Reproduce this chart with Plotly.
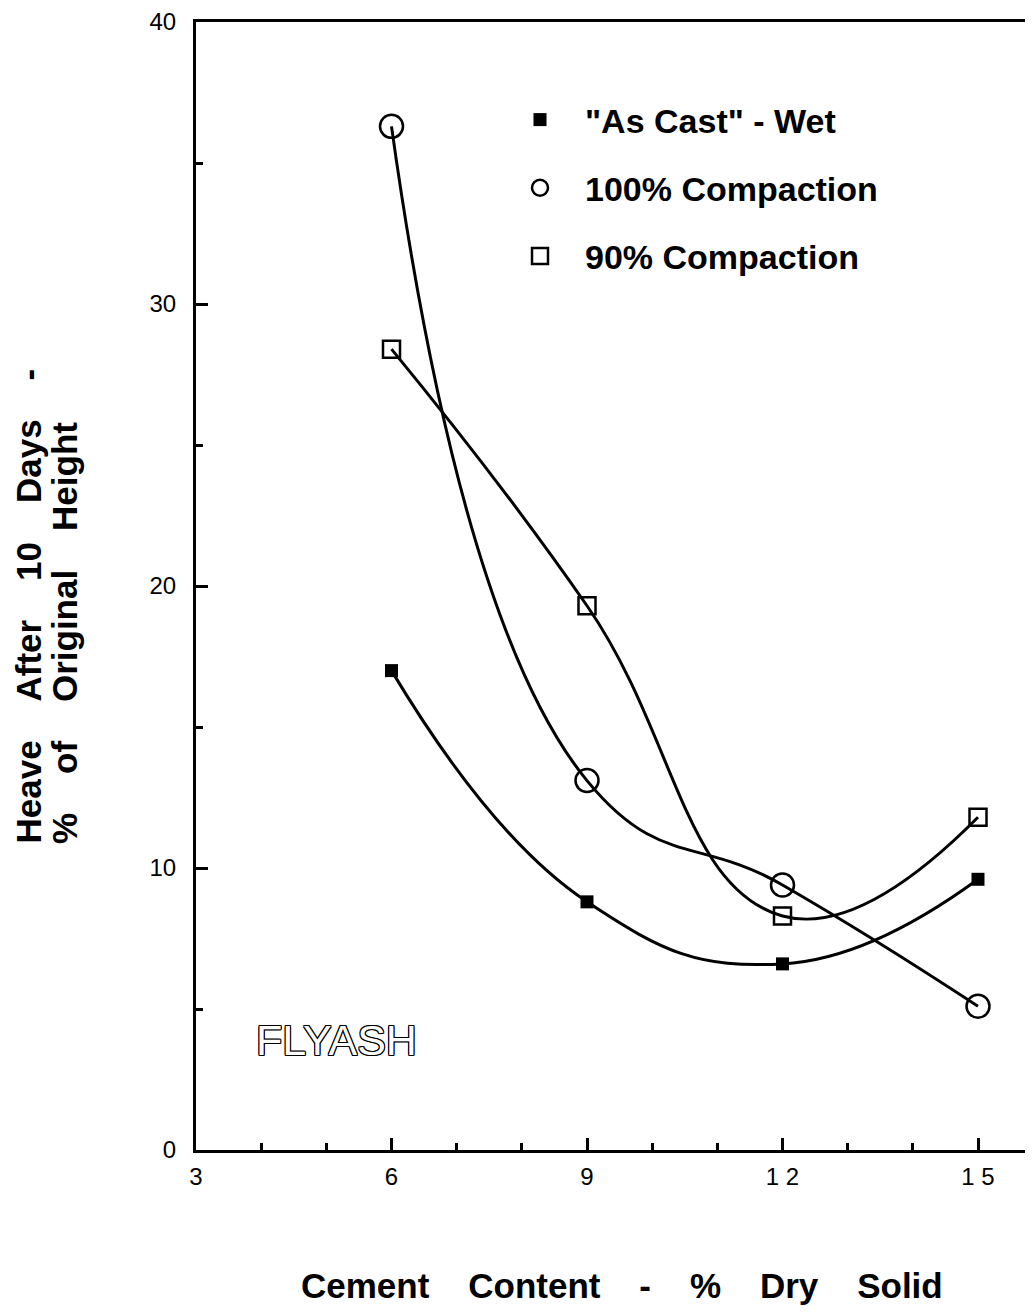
import plotly.graph_objects as go

# Data
cement = [6, 9, 12, 15]
as_cast_wet = [17.0, 8.8, 6.6, 9.6]
compaction_100 = [36.3, 13.1, 9.4, 5.1]
compaction_90 = [28.4, 19.3, 8.3, 11.8]

series_names = ['"As Cast" - Wet', "100% Compaction", "90% Compaction"]
x_tick_vals = [3, 6, 9, 12, 15]
x_tick_text = ["3", "6", "9", "1 2", "1 5"]
y_tick_vals = [0, 10, 20, 30, 40]

FONT = "Liberation Sans, Arial, Helvetica, sans-serif"
NB = "\u00a0"

# page has 8px body margin; work in screen pixels and convert
OFF = 8
W, H = 1017, 1300
L, T = 196 - OFF, 22 - OFF
B = H - (1150 - OFF)
R = 0
pw, ph = W - L - R, H - T - B


def px(xs):
    return (xs - OFF - L) / pw


def py(ys):
    return 1 - (ys - OFF - T) / ph


fig = go.Figure()

series = [
    (as_cast_wet, series_names[0], dict(symbol="square", size=13, color="black")),
    (compaction_100, series_names[1], dict(symbol="circle-open", size=23, color="black", line=dict(width=2.5, color="black"))),
    (compaction_90, series_names[2], dict(symbol="square-open", size=17, color="black", line=dict(width=2.5, color="black"))),
]

for i, (vals, name, mk) in enumerate(series):
    fig.add_trace(go.Scatter(
        x=cement, y=vals, mode="lines",
        line=dict(color="black", width=3, shape="spline", smoothing=1.3),
        showlegend=False, hoverinfo="skip",
    ))
for i, (vals, name, mk) in enumerate(series):
    fig.add_trace(go.Scatter(
        x=cement, y=vals, mode="markers", name=name, marker=mk,
        legendgroup=f"g{i}", showlegend=True,
    ))

fig.add_annotation(
    x=5.16, y=3.9, xref="x", yref="y", text="FLYASH", showarrow=False,
    font=dict(family=FONT, size=43, color="white",
              shadow="1px 0 0 #000, -1px 0 0 #000, 0 1px 0 #000, 0 -1px 0 #000, 1px 1px 0 #000, -1px -1px 0 #000, 1px -1px 0 #000, -1px 1px 0 #000"),
)

# Y axis title (two lines, rotated)
SPY = NB * 4
fig.add_annotation(
    x=px(28), y=py(846), xref="paper", yref="paper", xanchor="center", yanchor="bottom",
    text=f"<b>Heave{SPY}After{SPY}10{SPY}Days{SPY}-</b>",
    textangle=-90, showarrow=False,
    font=dict(family=FONT, size=35, color="black"),
)
fig.add_annotation(
    x=px(64), y=py(846), xref="paper", yref="paper", xanchor="center", yanchor="bottom",
    text=f"<b>%{SPY}of{SPY}Original{SPY}Height</b>",
    textangle=-90, showarrow=False,
    font=dict(family=FONT, size=35, color="black"),
)

# X axis title
SPX = NB * 4
fig.add_annotation(
    x=px(622), y=py(1285), xref="paper", yref="paper", xanchor="center", yanchor="middle",
    text=f"<b>Cement{SPX}Content{SPX}-{SPX}%{SPX}Dry{SPX}Solid</b>",
    showarrow=False,
    font=dict(family=FONT, size=35, color="black"),
)

px_per_x = (979 - 197) / 12.0
x_max = 3 + pw / px_per_x

fig.update_layout(
    width=W, height=H,
    margin=dict(l=L, r=R, t=T, b=B, autoexpand=False),
    paper_bgcolor="white", plot_bgcolor="white",
    font=dict(family=FONT, color="black"),
    showlegend=True,
    legend=dict(
        x=px(495), y=py(91), xanchor="left", yanchor="top",
        font=dict(family=FONT, size=34, color="black", weight="bold"),
        bgcolor="rgba(0,0,0,0)", tracegroupgap=21, itemwidth=80,
    ),
    xaxis=dict(
        range=[3, x_max], showgrid=False, zeroline=False,
        showline=True, linewidth=3, linecolor="black", mirror=True,
        ticks="inside", tickvals=x_tick_vals, ticktext=x_tick_text,
        ticklen=12, tickwidth=2.5, tickcolor="black",
        tickfont=dict(family=FONT, size=24, color="black"),
        ticklabelstandoff=3, ticklabeloverflow="allow",
        minor=dict(ticks="inside", dtick=1, tick0=3, ticklen=7, tickwidth=2.5, tickcolor="black", showgrid=False),
    ),
    yaxis=dict(
        range=[0, 40.001], showgrid=False, zeroline=False,
        showline=True, linewidth=3, linecolor="black", mirror=False,
        ticks="inside", tickvals=y_tick_vals,
        ticklen=12, tickwidth=2.5, tickcolor="black",
        tickfont=dict(family=FONT, size=24, color="black"),
        ticklabelstandoff=12, ticklabeloverflow="allow",
        minor=dict(ticks="inside", dtick=5, tick0=0, ticklen=7, tickwidth=2.5, tickcolor="black", showgrid=False),
    ),
)

fig.write_html("out.html")
